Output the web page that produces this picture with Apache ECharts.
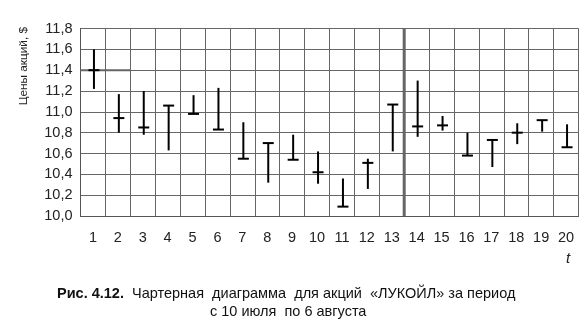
<!DOCTYPE html>
<html>
<head>
<meta charset="utf-8">
<script src="https://cdn.jsdelivr.net/npm/echarts@6/dist/echarts.min.js"></script>
<style>html,body{margin:0;padding:0;background:#fff}#c{width:585px;height:329px}</style>
</head>
<body>
<div id="c"></div>
<script>
var categories = ['1','2','3','4','5','6','7','8','9','10','11','12','13','14','15','16','17','18','19','20'];
var highs  = [11.60,11.17,11.20,11.06,11.16,11.23,10.90,10.70,10.78,10.62,10.36,10.55,11.07,11.30,10.96,10.80,10.73,10.89,10.92,10.88];
var lows   = [11.22,10.80,10.78,10.63,10.98,10.83,10.55,10.32,10.54,10.31,10.09,10.26,10.62,10.76,10.82,10.58,10.47,10.69,10.81,10.66];
var closes = [11.40,10.94,10.85,11.06,10.98,10.83,10.55,10.70,10.54,10.42,10.09,10.51,11.07,10.86,10.87,10.58,10.73,10.80,10.92,10.66];
var yTicks = {min: 10.0, max: 11.8, interval: 0.2};

var data = categories.map(function (c, i) { return [i, lows[i], highs[i], closes[i]]; });
var FONT = 'Liberation Sans, Arial, sans-serif';

var chart = echarts.init(document.getElementById('c'), null, {renderer: 'canvas'});
chart.setOption({
  animation: false,
  backgroundColor: '#fff',
  grid: {left: 80.5, right: 6.5, top: 28.5, bottom: 113, show: false},
  xAxis: {
    type: 'category',
    data: categories,
    boundaryGap: true,
    axisLine: {show: true, lineStyle: {color: '#555', width: 1}},
    axisTick: {show: false},
    splitLine: {show: true, lineStyle: {color: '#666', width: 1}},
    axisLabel: {color: '#222', fontSize: 14.5, fontFamily: FONT, margin: 14, interval: 0}
  },
  yAxis: {
    type: 'value',
    min: yTicks.min, max: yTicks.max, interval: yTicks.interval,
    axisLine: {show: true, lineStyle: {color: '#555', width: 1}},
    axisTick: {show: false},
    splitLine: {show: true, lineStyle: {color: '#666', width: 1}},
    axisLabel: {color: '#222', fontSize: 14.5, fontFamily: FONT, margin: 8,
      formatter: function (v) { return v.toFixed(1).replace('.', ','); }}
  },
  graphic: [
    {type: 'text', left: 18, top: 27, rotation: Math.PI / 2,
      style: {text: 'Цены акций, $', fontSize: 11.8, fontFamily: FONT, fill: '#222'}},
    {type: 'text', left: 566, top: 251,
      style: {text: 't', fontSize: 15, fontStyle: 'italic', fontFamily: FONT, fill: '#222'}},
    {type: 'text', left: 57, top: 286,
      style: {rich: {b: {fontWeight: 'bold', fontSize: 14.5, fontFamily: FONT, fill: '#111'},
                     n: {fontSize: 14.5, fontFamily: FONT, fill: '#111'}},
        text: '{b|Рис. 4.12.}{n|  Чартерная  диаграмма  для акций  «ЛУКОЙЛ» за период}'}},
    {type: 'text', left: 210, top: 304,
      style: {text: 'с 10 июля  по 6 августа', fontSize: 14.5, fontFamily: FONT, fill: '#111'}}
  ],
  series: [{
    type: 'custom',
    data: data,
    renderItem: function (params, api) {
      var x = api.value(0);
      var lo = api.coord([x, api.value(1)]);
      var hi = api.coord([x, api.value(2)]);
      var cl = api.coord([x, api.value(3)]);
      var bw = api.size([1, 0])[0];
      var cx = lo[0] + 1;
      var children = [
        {type: 'line', shape: {x1: cx, y1: hi[1], x2: cx, y2: lo[1]}, style: {stroke: '#000', lineWidth: 2}},
        {type: 'line', shape: {x1: cx - 5.5, y1: cl[1], x2: cx + 5.5, y2: cl[1]}, style: {stroke: '#000', lineWidth: 2}}
      ];
      if (params.dataIndex === 12) {
        var top = api.coord([x, yTicks.max])[1];
        var bot = api.coord([x, yTicks.min])[1];
        var rx = lo[0] + bw / 2;
        children.unshift({type: 'line', shape: {x1: rx, y1: top, x2: rx, y2: bot}, style: {stroke: '#666', lineWidth: 3}});
      }
      if (params.dataIndex === 0) {
        var lx = lo[0] - bw / 2;
        children.unshift({type: 'line', shape: {x1: lx, y1: cl[1], x2: lx + 2 * bw, y2: cl[1]}, style: {stroke: '#666', lineWidth: 2}});
      }
      return {type: 'group', children: children};
    }
  }]
});
</script>
</body>
</html>
